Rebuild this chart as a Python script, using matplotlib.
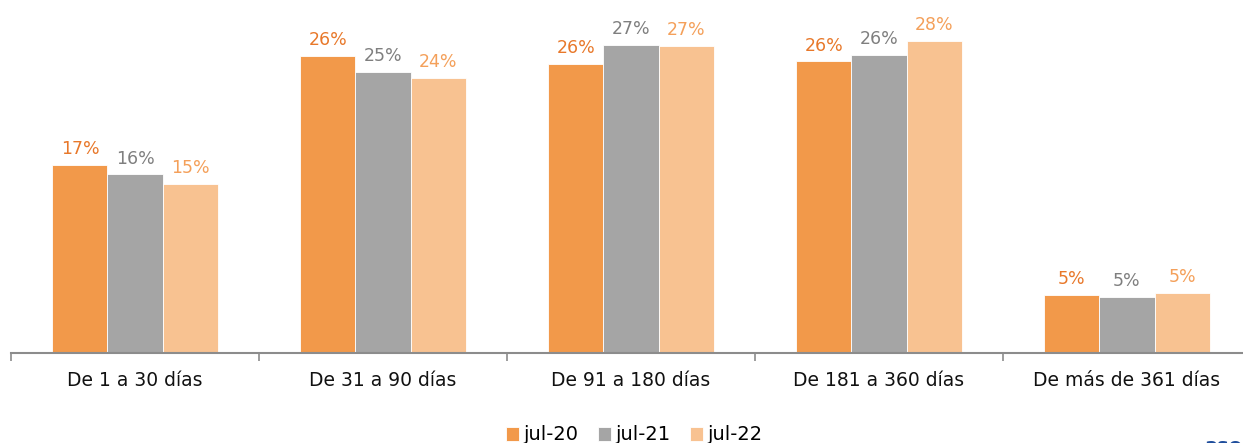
#Grouped bar chart of balances by age bucket, jul-20 / jul-21 / jul-22
import matplotlib.pyplot as plt
import numpy as np

plt.rcParams['font.family'] = ['DejaVu Sans']

#Categories and series (percent)
categories = ['De 1 a 30 días', 'De 31 a 90 días', 'De 91 a 180 días',
              'De 181 a 360 días', 'De más de 361 días']
series_names = ['jul-20', 'jul-21', 'jul-22']
jul20 = [16.6, 26.3, 25.6, 25.8, 5.1]
jul21 = [15.8, 24.9, 27.3, 26.4, 5.0]
jul22 = [15.0, 24.3, 27.2, 27.6, 5.3]

bar_colors = ['#F2994A', '#A5A5A5', '#F8C291']
label_colors = ['#E8782A', '#7F7F7F', '#F4A05A']

fig = plt.figure(figsize=(12.43, 4.43), dpi=100)
ax = fig.add_axes([11/1243, 90/443, 1240/1243, 353/443])

x = np.arange(len(categories))
w = 0.222
for i, (vals, name) in enumerate(zip([jul20, jul21, jul22], series_names)):
    pos = x + (i - 1) * w
    bars = ax.bar(pos, vals, w, color=bar_colors[i], label=name,
                  edgecolor='white', linewidth=0.6)
    for p, v in zip(pos, vals):
        ax.annotate('%d%%' % round(v), (p, v), xytext=(0, 5),
                    textcoords='offset points', ha='center', va='bottom',
                    fontsize=12.5, color=label_colors[i])

ax.set_xlim(-0.5, len(categories) - 0.5)
ax.set_ylim(0, 31.24)
ax.set_yticks([])
for s in ['top', 'right', 'left']:
    ax.spines[s].set_visible(False)
ax.spines['bottom'].set_color('#8C8C8C')
ax.spines['bottom'].set_linewidth(1.5)

ax.set_xticks(x)
ax.set_xticklabels(categories, fontsize=13.5, color='#111111')
ax.tick_params(axis='x', which='major', length=0, pad=13)
ax.set_xticks(np.arange(len(categories) + 1) - 0.5, minor=True)
ax.tick_params(axis='x', which='minor', length=6, width=1.2, color='#8C8C8C')

fig.legend(loc='center', bbox_to_anchor=(634/1243, 8/443), ncol=3,
           frameon=False, fontsize=14, handlelength=0.7, handleheight=0.7,
           handletextpad=0.2, columnspacing=1.0, borderaxespad=0)

fig.text(1204/1243, 6/443, 'asob', color='#1F4E9C', fontsize=14,
         fontweight='bold', ha='left', va='top')

fig.savefig('out.png', dpi=100)
